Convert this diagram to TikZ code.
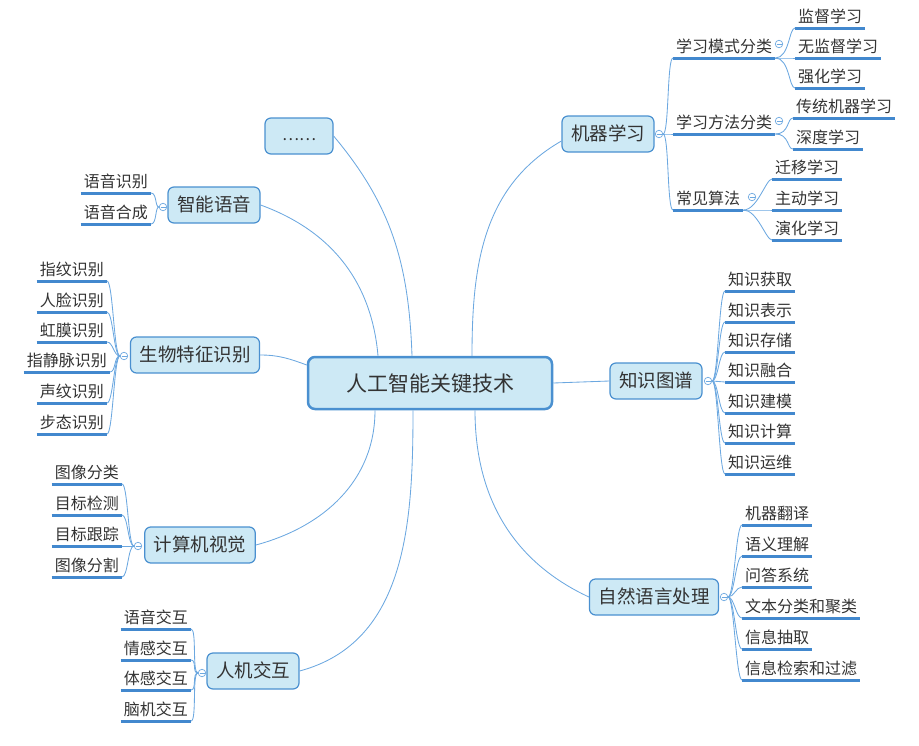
\documentclass[tikz,border=0pt]{standalone}
\usepackage{fontspec}
\setmainfont{Noto Sans CJK SC}

\definecolor{topicfill}{RGB}{205,233,245}
\definecolor{topicline}{RGB}{74,144,208}
\definecolor{linkblue}{RGB}{108,168,224}
\definecolor{leafline}{RGB}{66,136,206}
\definecolor{inkgray}{RGB}{51,51,51}

\begin{document}
\begin{tikzpicture}[
    x=1pt, y=-1pt,
    root/.style={
        rectangle, rounded corners=7pt, draw=topicline, line width=2.5pt, fill=topicfill,
        minimum width=244pt, minimum height=52pt, text height=17.5pt, text depth=1.5pt,
        font=\fontsize{21}{24}\selectfont, text=inkgray
    },
    branch/.style={
        rectangle, rounded corners=6pt, draw=topicline, line width=1.2pt, fill=topicfill,
        minimum height=36pt, inner xsep=9pt, text height=15pt, text depth=1.5pt,
        font=\fontsize{18.5}{22}\selectfont, text=inkgray
    },
    leaf/.style={
        inner xsep=3pt, inner ysep=2.5pt, text height=12.5pt, text depth=2.5pt,
        font=\fontsize{16}{18}\selectfont, text=inkgray,
        append after command={(\tikzlastnode.south west) edge[uline] (\tikzlastnode.south east)}
    },
    uline/.style={draw=leafline, line width=3pt},
    fold/.style={
        circle, draw=linkblue, fill=white, line width=0.7pt, minimum size=7.5pt, inner sep=0pt,
        path picture={\draw[linkblue, line width=0.7pt]
            ([xshift=-2.5pt]path picture bounding box.center) -- ([xshift=2.5pt]path picture bounding box.center);}
    },
    link/.style={draw=linkblue, line width=0.85pt},
    rf/.style={out=0, in=180, out distance=#1, in distance=6pt}, rf/.default=6pt,
    lf/.style={out=180, in=0, out distance=#1, in distance=6pt}, lf/.default=6pt
]
\useasboundingbox (0,0) rectangle (919,745);

% main topics
\node[root]   (root)  at (430,383) {人工智能关键技术};
\node[branch, minimum width=68pt, font=\fontsize{16}{18}\selectfont] (dots) at (299,136) {\raisebox{2.5pt}{……}};
\node[branch] (ml)    at (608,134) {机器学习};
\node[branch] (kg)    at (656,381) {知识图谱};
\node[branch] (nlp)   at (654,597) {自然语言处理};
\node[branch] (voice) at (214,205) {智能语音};
\node[branch] (bio)   at (195,355) {生物特征识别};
\node[branch] (cv)    at (200,545) {计算机视觉};
\node[branch] (hci)   at (253,671) {人机交互};

\draw[link] ([xshift=-52pt]root.north) to[out=95, in=-20]  (voice.east);
\draw[link] ([xshift=-18pt]root.north) to[out=92, in=-50]  (dots.east);
\draw[link] ([xshift=42pt]root.north)  to[out=90, in=210]  ([yshift=-7pt]ml.west);
\draw[link] (root.east) -- (kg.west);
\draw[link] (bio.east) to[out=0, in=160] ([yshift=18pt]root.west);
\draw[link] ([xshift=-55pt]root.south) to[out=-90, in=15]  (cv.east);
\draw[link] ([xshift=-17pt]root.south) to[out=-90, in=15]  (hci.east);
\draw[link] ([xshift=45pt]root.south)  to[out=-90, in=155] (nlp.west);

% machine learning
\node[fold] (mlf) at (659,134) {};
\node[leaf, anchor=south west] (ml1) at (673,58)  {学习模式分类};
\node[leaf, anchor=south west] (ml2) at (673,134) {学习方法分类};
\node[leaf, anchor=south west] (ml3) at (673,210) {常见算法};
\node[fold] (ml1f) at (779,44)  {};
\node[fold] (ml2f) at (779,121) {};
\node[fold] (ml3f) at (752,197) {};
\node[leaf, anchor=south west] (ml11) at (795,28)  {监督学习};
\node[leaf, anchor=south west] (ml12) at (795,58)  {无监督学习};
\node[leaf, anchor=south west] (ml13) at (795,88)  {强化学习};
\node[leaf, anchor=south west] (ml21) at (793,118) {传统机器学习};
\node[leaf, anchor=south west] (ml22) at (793,149) {深度学习};
\node[leaf, anchor=south west] (ml31) at (772,179) {迁移学习};
\node[leaf, anchor=south west] (ml32) at (772,210) {主动学习};
\node[leaf, anchor=south west] (ml33) at (772,240) {演化学习};

\draw[link] (mlf.east) to[rf] (ml1.south west);
\draw[link] (mlf.east) to[rf] (ml2.south west);
\draw[link] (mlf.east) to[rf] (ml3.south west);
\draw[link] (ml1.south east) to[rf=14pt] (ml11.south west);
\draw[link] (ml1.south east) to[rf=14pt] (ml12.south west);
\draw[link] (ml1.south east) to[rf=14pt] (ml13.south west);
\draw[link] (ml2.south east) to[rf=14pt] (ml21.south west);
\draw[link] (ml2.south east) to[rf=14pt] (ml22.south west);
\draw[link] (ml3.south east) to[rf=14pt] (ml31.south west);
\draw[link] (ml3.south east) to[rf=14pt] (ml32.south west);
\draw[link] (ml3.south east) to[rf=14pt] (ml33.south west);

% knowledge graph
\node[fold] (kgf) at (708,381) {};
\node[leaf, anchor=south west] (kg1) at (725,291) {知识获取};
\node[leaf, anchor=south west] (kg2) at (725,322) {知识表示};
\node[leaf, anchor=south west] (kg3) at (725,352) {知识存储};
\node[leaf, anchor=south west] (kg4) at (725,382) {知识融合};
\node[leaf, anchor=south west] (kg5) at (725,413) {知识建模};
\node[leaf, anchor=south west] (kg6) at (725,443) {知识计算};
\node[leaf, anchor=south west] (kg7) at (725,474) {知识运维};

\draw[link] (kgf.east) to[rf] (kg1.south west);
\draw[link] (kgf.east) to[rf] (kg2.south west);
\draw[link] (kgf.east) to[rf] (kg3.south west);
\draw[link] (kgf.east) to[rf] (kg4.south west);
\draw[link] (kgf.east) to[rf] (kg5.south west);
\draw[link] (kgf.east) to[rf] (kg6.south west);
\draw[link] (kgf.east) to[rf] (kg7.south west);

% natural language processing
\node[fold] (nlpf) at (724,597) {};
\node[leaf, anchor=south west] (nlp1) at (742,525) {机器翻译};
\node[leaf, anchor=south west] (nlp2) at (742,556) {语义理解};
\node[leaf, anchor=south west] (nlp3) at (742,587) {问答系统};
\node[leaf, anchor=south west] (nlp4) at (742,618) {文本分类和聚类};
\node[leaf, anchor=south west] (nlp5) at (742,649) {信息抽取};
\node[leaf, anchor=south west] (nlp6) at (742,680) {信息检索和过滤};

\draw[link] (nlpf.east) to[rf] (nlp1.south west);
\draw[link] (nlpf.east) to[rf] (nlp2.south west);
\draw[link] (nlpf.east) to[rf] (nlp3.south west);
\draw[link] (nlpf.east) to[rf] (nlp4.south west);
\draw[link] (nlpf.east) to[rf] (nlp5.south west);
\draw[link] (nlpf.east) to[rf] (nlp6.south west);

% intelligent voice
\node[fold] (voicef) at (163,207) {};
\node[leaf, anchor=south east] (voice1) at (151,193) {语音识别};
\node[leaf, anchor=south east] (voice2) at (151,224) {语音合成};

\draw[link] (voicef.west) to[lf=4pt] (voice1.south east);
\draw[link] (voicef.west) to[lf=4pt] (voice2.south east);

% biometrics
\node[fold] (biof) at (124,356) {};
\node[leaf, anchor=south east] (bio1) at (107,281) {指纹识别};
\node[leaf, anchor=south east] (bio2) at (107,312) {人脸识别};
\node[leaf, anchor=south east] (bio3) at (107,342) {虹膜识别};
\node[leaf, anchor=south east] (bio4) at (110,372) {指静脉识别};
\node[leaf, anchor=south east] (bio5) at (107,403) {声纹识别};
\node[leaf, anchor=south east] (bio6) at (107,434) {步态识别};

\draw[link] (biof.west) to[lf] (bio1.south east);
\draw[link] (biof.west) to[lf] (bio2.south east);
\draw[link] (biof.west) to[lf] (bio3.south east);
\draw[link] (biof.west) to[lf] (bio4.south east);
\draw[link] (biof.west) to[lf] (bio5.south east);
\draw[link] (biof.west) to[lf] (bio6.south east);

% computer vision
\node[fold] (cvf) at (138,546) {};
\node[leaf, anchor=south east] (cv1) at (122,484) {图像分类};
\node[leaf, anchor=south east] (cv2) at (122,515) {目标检测};
\node[leaf, anchor=south east] (cv3) at (122,546) {目标跟踪};
\node[leaf, anchor=south east] (cv4) at (122,577) {图像分割};

\draw[link] (cvf.west) to[lf] (cv1.south east);
\draw[link] (cvf.west) to[lf] (cv2.south east);
\draw[link] (cvf.west) to[lf] (cv3.south east);
\draw[link] (cvf.west) to[lf] (cv4.south east);

% human-computer interaction
\node[fold] (hcif) at (202,673) {};
\node[leaf, anchor=south east] (hci1) at (191,629) {语音交互};
\node[leaf, anchor=south east] (hci2) at (191,660) {情感交互};
\node[leaf, anchor=south east] (hci3) at (191,690) {体感交互};
\node[leaf, anchor=south east] (hci4) at (191,721) {脑机交互};

\draw[link] (hcif.west) to[lf] (hci1.south east);
\draw[link] (hcif.west) to[lf] (hci2.south east);
\draw[link] (hcif.west) to[lf] (hci3.south east);
\draw[link] (hcif.west) to[lf] (hci4.south east);

\end{tikzpicture}
\end{document}
